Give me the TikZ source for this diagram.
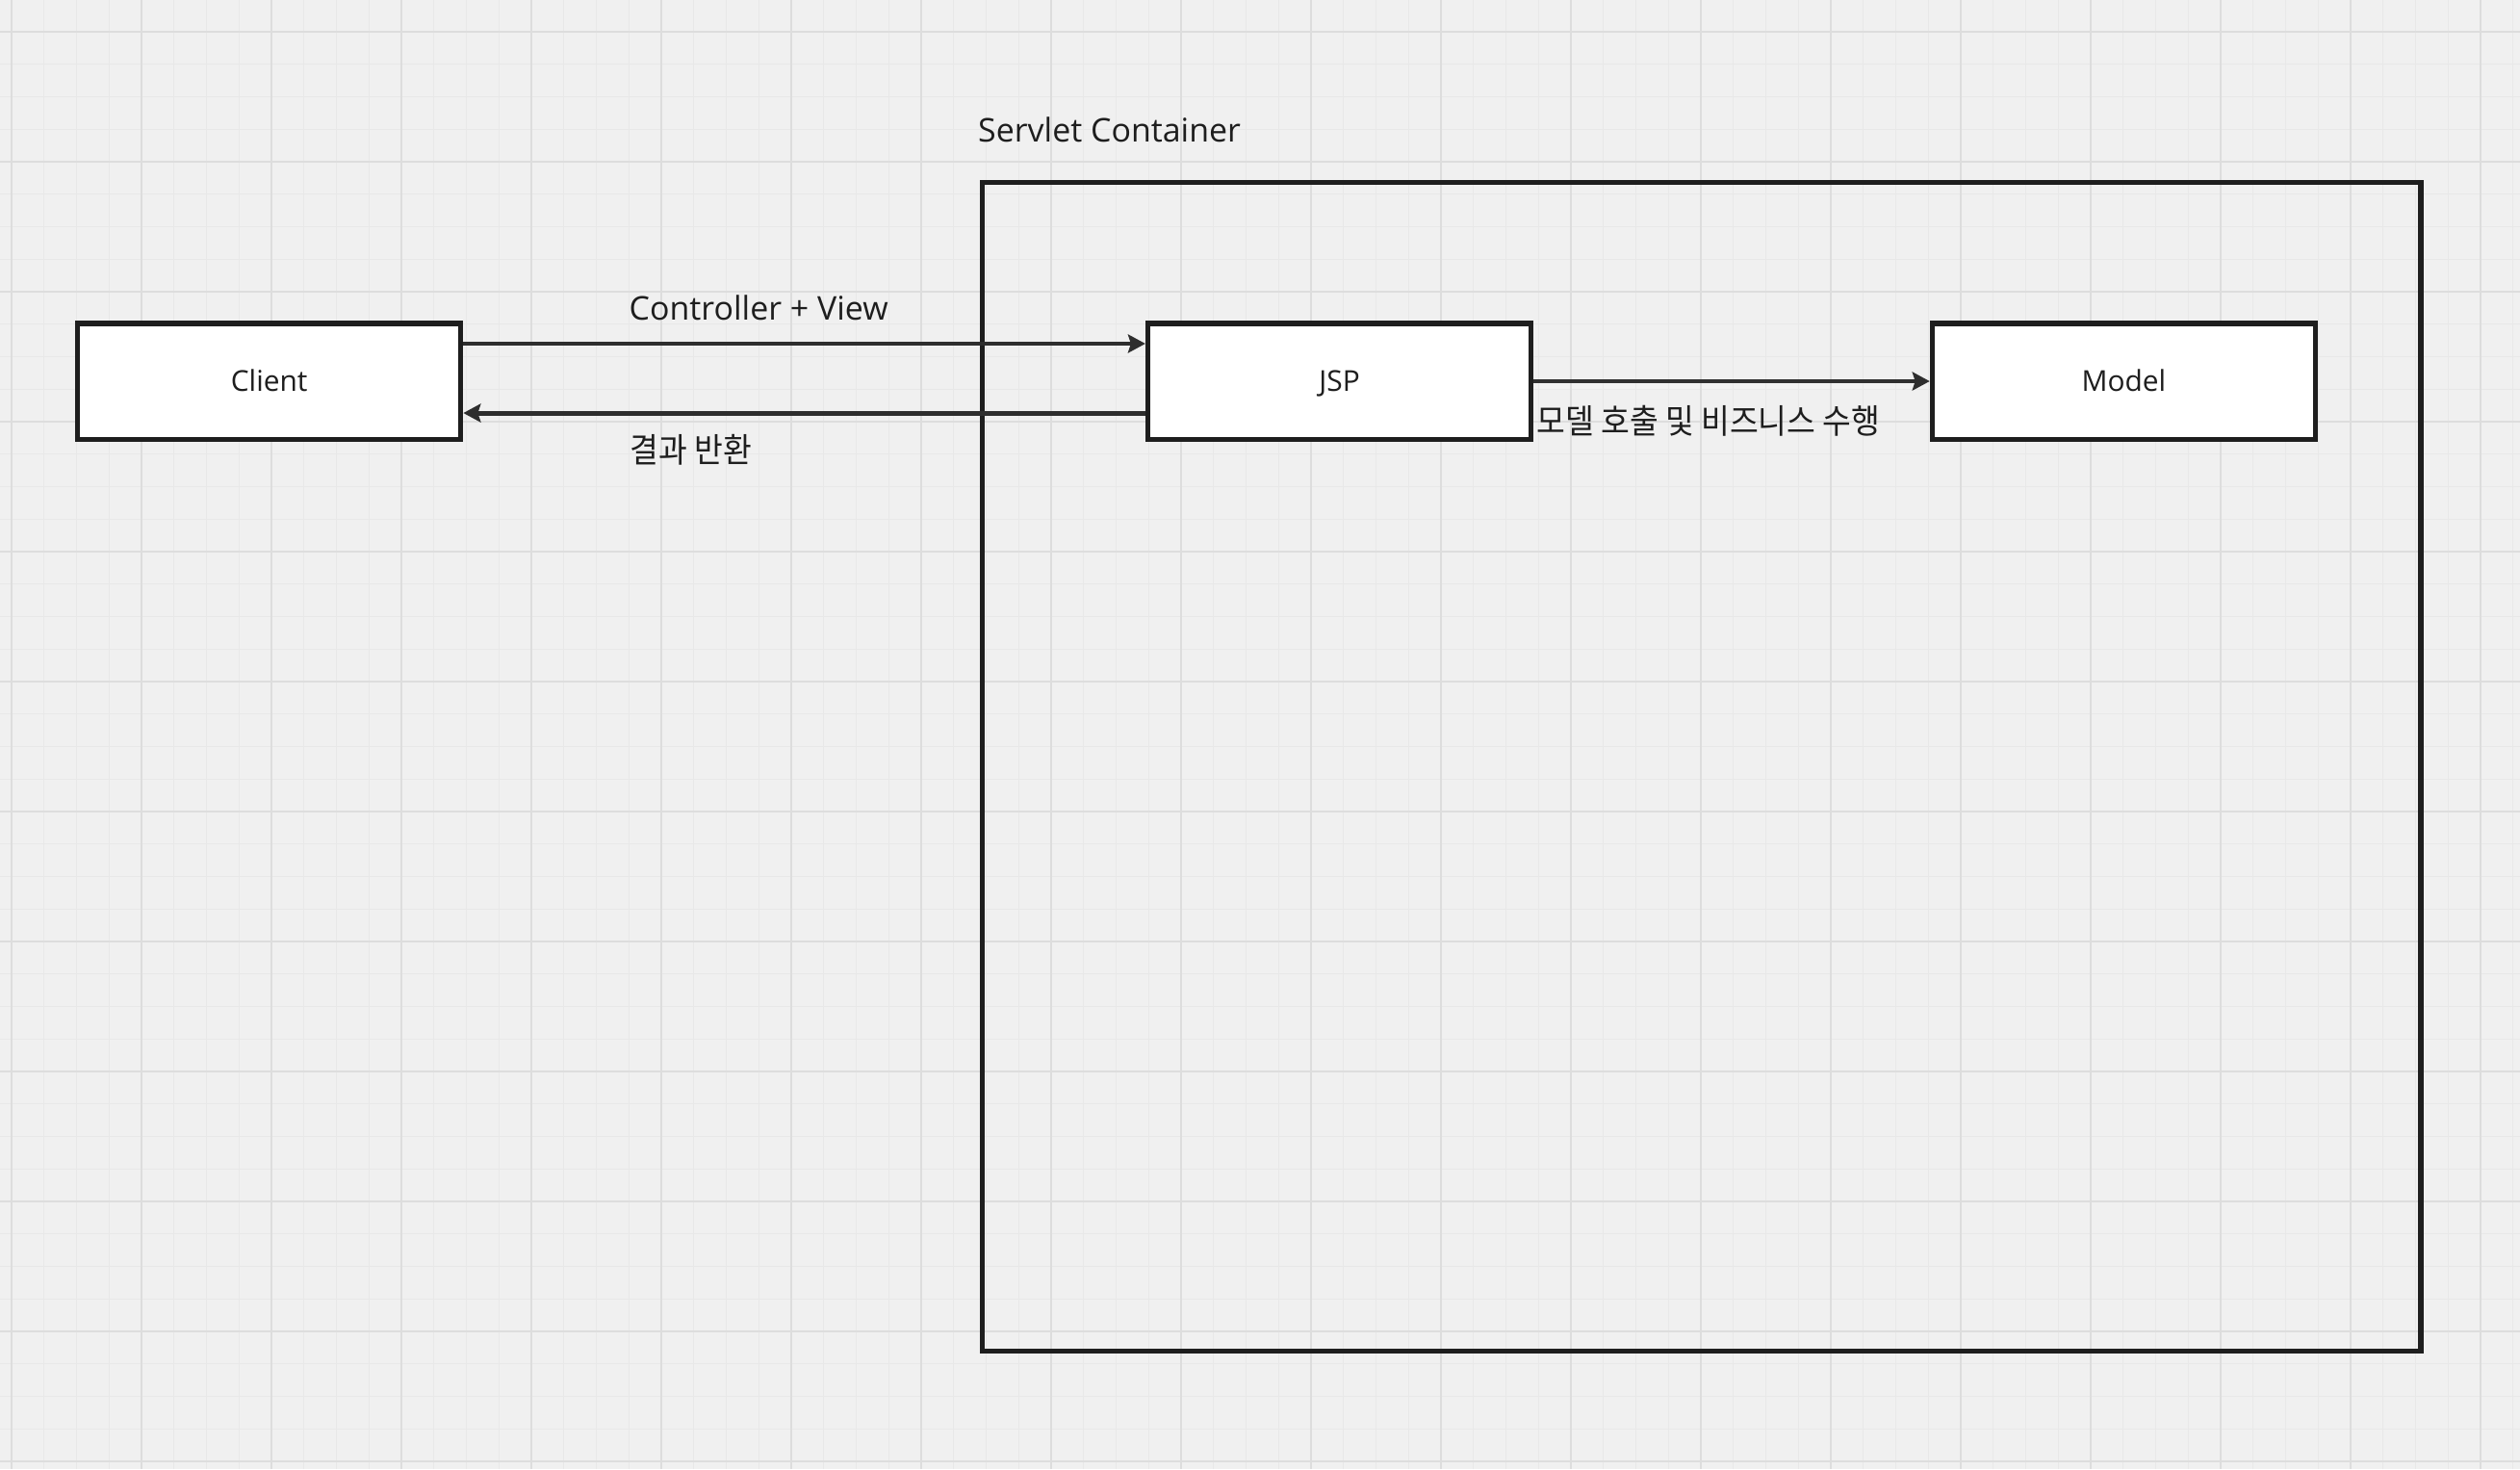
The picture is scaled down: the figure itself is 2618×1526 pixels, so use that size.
\documentclass[tikz,border=0pt]{standalone}
\usepackage{fontspec}
\setmainfont{Open Sans}
\newfontfamily\kofont[FakeStretch=0.92]{Noto Sans CJK KR}
\usepackage{xcolor}
\usetikzlibrary{arrows.meta}
\definecolor{canvas}{HTML}{F0F0F0}
\definecolor{minorgrid}{HTML}{E8E8E8}
\definecolor{majorgrid}{HTML}{DDDDDD}
\definecolor{ink}{HTML}{1E1E1E}
\definecolor{wire}{HTML}{2E2E2E}

\begin{document}
\begin{tikzpicture}[x=0.01cm, y=-0.01cm,
  minorline/.style={draw=minorgrid, line width=0.3pt},
  majorline/.style={draw=majorgrid, line width=0.45pt},
  box/.style={draw=ink, fill=white, line width=1.45pt, minimum width=3.98cm, minimum height=1.2cm, inner sep=0pt, text height=6.1pt, text depth=0pt, text=ink, font=\fontsize{8.5}{10}\selectfont},
  container/.style={draw=ink, line width=1.45pt, minimum width=14.94cm, minimum height=12.14cm, inner sep=0pt},
  lbl/.style={inner sep=0pt, text=ink, font=\fontsize{9.65}{11}\selectfont},
  kolbl/.style={inner sep=0pt, text=ink, font=\kofont\fontsize{10}{12}\selectfont},
  flow/.style={draw=wire, line width=1.4pt, -{Stealth[length=0.18cm, width=0.19cm, inset=0.03cm]}}]
  \useasboundingbox (0,0) rectangle (2618,1526);
  \fill[canvas] (0,0) rectangle (2618,1526);
  % grid
  \foreach \k in {0,...,77} \draw[minorline] ({12+33.75*\k},0) -- ++(0,1526);
  \foreach \k in {0,...,45} \draw[minorline] (0,{-0.75+33.75*\k}) -- ++(2618,0);
  \foreach \k in {0,...,19} \draw[majorline] ({12+135*\k},0) -- ++(0,1526);
  \foreach \k in {0,...,11} \draw[majorline] (0,{33+135*\k}) -- ++(2618,0);
  % servlet container
  \node[container] (servlet) at (1767.5,796.5) {};
  \node[lbl, anchor=base west] (servlettitle) at ([xshift=-0.02cm, yshift=0.395cm]servlet.north west) {Servlet Container};
  % boxes
  \node[box] (client) at (279.7,396) {Client};
  \node[box] (jsp) at (1391.6,396) {JSP};
  \node[box] (model) at (2206.4,396) {Model};
  % connectors
  \draw[flow] ([yshift=0.39cm]client.east) -- ([yshift=0.39cm]jsp.west);
  \draw[flow] ([yshift=-0.33cm]jsp.west) -- ([yshift=-0.33cm]client.east);
  \draw[flow] (jsp.east) -- (model.west);
  % labels
  \node[lbl, anchor=base west] (request) at (653,332) {Controller + View};
  \node[kolbl, anchor=base west] (response) at (654,480) {결과 반환};
  \node[kolbl, anchor=base west] (business) at (1596,450) {모델 호출 및 비즈니스 수행};
\end{tikzpicture}
\end{document}
